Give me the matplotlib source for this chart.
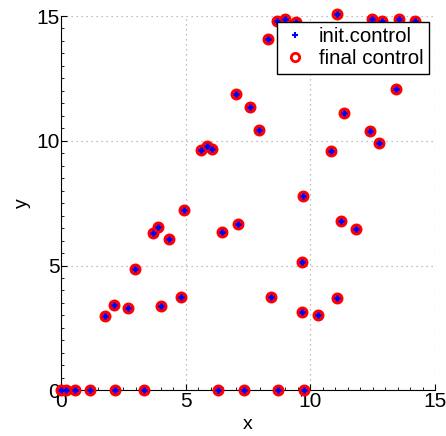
import matplotlib
matplotlib.use('Agg')
import matplotlib.pyplot as plt
from matplotlib.ticker import MultipleLocator

# --- data ---
x_vals = [0.0, 0.2, 0.55, 1.15, 2.17, 3.34, 6.31, 7.33, 8.72, 9.74,
          1.75, 2.13, 2.67, 2.95, 4.01, 4.81, 3.70, 3.89, 4.32, 4.92,
          5.63, 5.87, 6.04, 6.45, 7.10, 7.01, 7.57, 7.94, 8.32, 8.68,
          9.00, 9.41, 8.41, 9.67, 9.67, 9.71, 10.31, 10.84, 11.06, 11.06,
          11.24, 11.34, 11.82, 12.39, 12.47, 12.77, 12.88, 13.44, 13.55, 14.19]
y_vals = [0, 0, 0, 0, 0, 0, 0, 0, 0, 0,
          2.98, 3.41, 3.29, 4.85, 3.38, 3.74, 6.30, 6.55, 6.08, 7.24,
          9.63, 9.80, 9.68, 6.33, 6.68, 11.88, 11.34, 10.43, 14.09, 14.81,
          14.87, 14.77, 3.74, 5.14, 3.14, 7.80, 3.03, 9.60, 3.70, 15.07,
          6.77, 11.13, 6.47, 10.40, 14.87, 9.92, 14.80, 12.06, 14.88, 14.81]
# final control ended up where the initial control was
x_final = list(x_vals)
y_final = list(y_vals)

plt.rcParams['font.family'] = ['Liberation Sans', 'DejaVu Sans']

fig = plt.figure(figsize=(4.46, 4.36), dpi=100)
ax = fig.add_axes([0.1368, 0.1048, 0.9753 - 0.1368, 0.9633 - 0.1048])

ax.plot(x_vals, y_vals, linestyle='none', marker='+', color='blue',
        markersize=5, markeredgewidth=2, label='init.control',
        zorder=4, clip_on=False)
ax.plot(x_final, y_final, linestyle='none', marker='o', markerfacecolor='none',
        markeredgecolor='red', markersize=6, markeredgewidth=2.6,
        label='final control', zorder=3, clip_on=False)

ax.set_xlim(0, 15)
ax.set_ylim(0, 15)
ax.xaxis.set_major_locator(MultipleLocator(5))
ax.yaxis.set_major_locator(MultipleLocator(5))
ax.xaxis.set_minor_locator(MultipleLocator(0.5))
ax.yaxis.set_minor_locator(MultipleLocator(0.5))
ax.tick_params(which='both', direction='in', labelsize=15, pad=1)
ax.tick_params(which='major', length=4)
ax.tick_params(which='minor', length=2)

ax.spines['top'].set_visible(False)
ax.spines['right'].set_visible(False)
ax.grid(True, which='major', linestyle=(0, (1, 3)), color='#aaaaaa', linewidth=0.9)

ax.set_xlabel('x', fontsize=14, labelpad=4)
ax.set_ylabel('y', fontsize=14, labelpad=4)

leg = ax.legend(loc='upper right', fontsize=14.8, frameon=True, fancybox=False,
                borderaxespad=0.3, handletextpad=0.5, borderpad=0.25,
                labelspacing=0.15, handlelength=1.3)
leg.get_frame().set_edgecolor('black')
leg.get_frame().set_linewidth(1)
leg.get_frame().set_alpha(1)
# legend ring shows a white centre in the reference
leg.legend_handles[1].set_markeredgewidth(2)
leg.legend_handles[0].set_markeredgewidth(1.5)

fig.savefig('out.png', dpi=100)
